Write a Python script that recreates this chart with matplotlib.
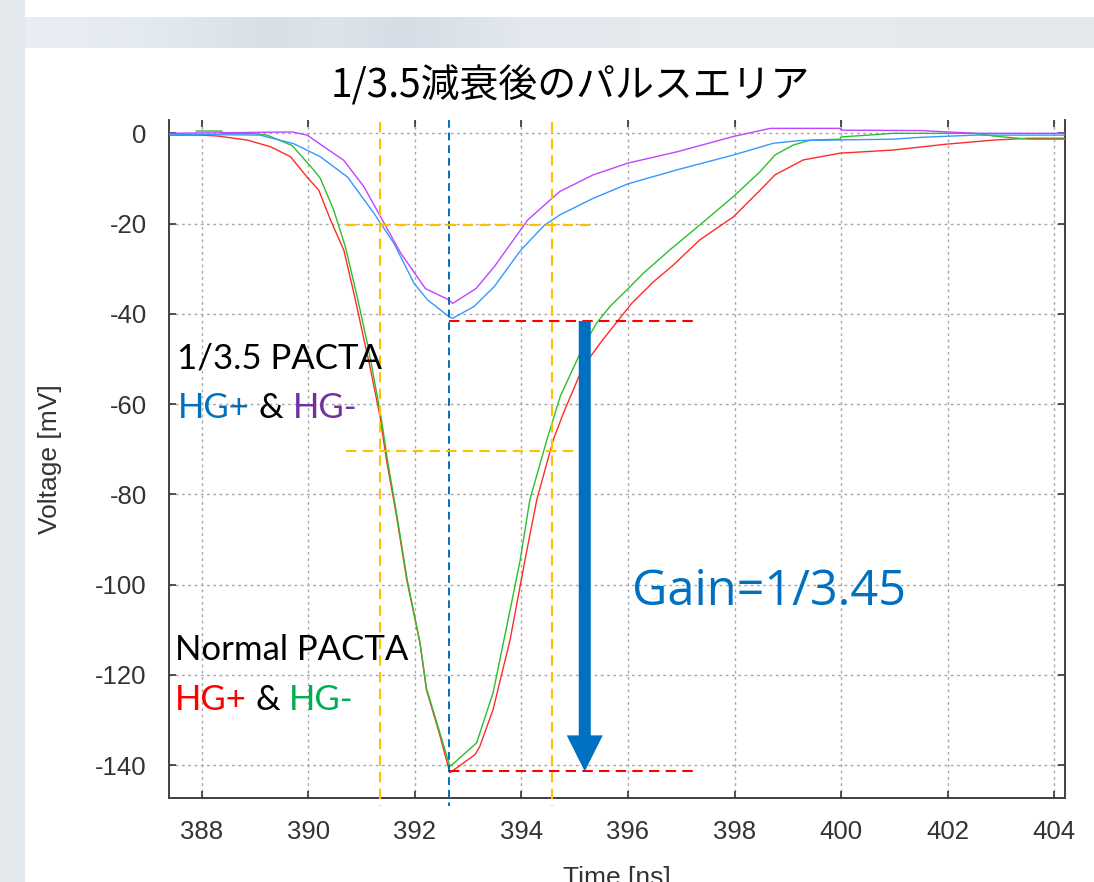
import numpy as np
import matplotlib.pyplot as plt
from matplotlib.patches import Rectangle

W, H = 1094, 882

# Normal PACTA, HG+ (red) and HG- (green)
t_red = [387.39, 388.0, 388.3, 388.86, 389.3, 389.67, 389.98, 390.2, 390.42, 390.67,
         390.86, 391.05, 391.16, 391.35, 391.47, 391.66, 391.85, 392.1, 392.22, 392.45,
         392.66, 392.79, 393.13, 393.22, 393.47, 393.79, 394.07, 394.29, 394.6, 394.79,
         395.16, 395.48, 395.82, 396.07, 396.48, 396.85, 397.35, 397.98, 398.48, 398.76,
         399.29, 399.98, 400.98, 401.98, 402.86, 403.51, 404.2]
v_red = [-0.4, -0.4, -0.6, -1.5, -3.0, -5.2, -9.7, -12.6, -19.2, -25.9,
         -35.5, -45.8, -51.7, -62.8, -72.4, -84.9, -98.9, -113.0, -123.3, -132.5,
         -141.7, -140.6, -137.7, -135.9, -127.7, -112.2, -94.5, -81.2, -67.9, -62.0,
         -51.7, -46.5, -41.4, -37.7, -32.9, -29.2, -23.6, -18.5, -12.6, -9.2,
         -5.9, -4.4, -3.7, -2.4, -1.5, -1.1, -1.1]

t_grn = [387.9, 388.38, 388.4, 389.0, 389.23, 389.7, 390.11, 390.23, 390.48, 390.7,
         390.92, 391.11, 391.2, 391.37, 391.49, 391.67, 391.86, 392.1, 392.22, 392.45,
         392.66, 392.76, 393.16, 393.47, 393.79, 393.98, 394.16, 394.48, 394.73, 395.16,
         395.41, 395.66, 395.98, 396.29, 396.79, 397.35, 397.98, 398.48, 398.76, 399.1,
         399.42, 399.98, 400.0, 400.51, 400.98, 402.5, 402.86, 403.51, 404.2]
v_grn = [0.5, 0.5, 0.0, -0.1, -0.4, -2.7, -8.2, -10.0, -17.0, -25.2,
         -36.2, -46.5, -52.0, -63.0, -72.5, -85.0, -99.0, -113.0, -123.0, -132.0,
         -140.3, -139.3, -135.1, -124.0, -105.6, -94.5, -81.2, -67.9, -58.3, -47.3,
         -42.1, -38.4, -34.7, -31.0, -25.8, -20.3, -14.0, -8.5, -4.8, -2.6,
         -1.5, -1.3, -0.8, -0.4, 0.0, 0.0, -0.6, -1.3, -1.3]

# 1/3.5 PACTA, HG+ (blue) and HG- (purple)
t_blu = [387.39, 389.1, 389.73, 390.23, 390.74, 391.24, 391.61, 391.99, 392.24, 392.64,
         392.71, 393.11, 393.49, 393.99, 394.43, 394.72, 395.35, 396.0, 396.92, 397.98,
         398.73, 399.23, 400.98, 401.48, 402.51, 404.2]
v_blu = [-0.2, -0.4, -2.3, -5.2, -9.7, -17.8, -24.4, -33.3, -36.9, -40.6,
         -41.0, -38.4, -34.0, -25.9, -20.4, -18.1, -14.4, -11.2, -8.1, -4.8,
         -2.2, -1.6, -1.3, -0.9, -0.4, -0.4]

t_pur = [387.39, 389.7, 389.98, 390.67, 391.05, 391.36, 391.74, 392.2, 392.64, 392.71,
         393.15, 393.49, 394.12, 394.72, 395.35, 396.0, 396.92, 397.98, 398.67, 399.98,
         400.0, 401.51, 402.51, 404.2]
v_pur = [0.0, 0.3, -0.4, -6.0, -11.9, -18.5, -26.6, -34.4, -36.9, -37.7,
         -34.4, -29.6, -19.2, -12.9, -9.2, -6.6, -4.1, -0.7, 1.1, 1.1,
         0.7, 0.6, 0.0, 0.0]

# guide lines drawn over the plot
peak_time = 392.65
width_edges = [391.35, 394.57]
half_levels = [-20.3, -70.3]
half_span = [390.72, 395.29]
peak_levels = [-41.6, -141.4]
peak_span = [392.65, 397.23]
arrow_x = 395.19

xticks = [388, 390, 392, 394, 396, 398, 400, 402, 404]
yticks = [0, -20, -40, -60, -80, -100, -120, -140]

plt.rcParams['font.family'] = ['Liberation Sans', 'DejaVu Sans']
plt.rcParams['axes.unicode_minus'] = False

fig = plt.figure(figsize=(W / 100, H / 100), dpi=100)

# slide background
bg = fig.add_axes([0, 0, 1, 1], zorder=-10)
bg.axis('off')
stops_x = [25, 150, 270, 330, 400, 520, 700, 1094]
stops_c = np.array([[233, 238, 244], [228, 234, 241], [216, 223, 231], [222, 228, 235],
                    [214, 221, 230], [226, 232, 238], [230, 235, 239], [227, 233, 237]]) / 255
xs = np.arange(25, W)
grad = np.stack([np.interp(xs, stops_x, stops_c[:, k]) for k in range(3)], axis=-1)[None, :, :]
bg.imshow(grad, extent=(25, W, 48, 17), aspect='auto', interpolation='bilinear')
bg.add_patch(Rectangle((0, 0), 25, H, color='#e3e9ed', lw=0))
bg.set_xlim(0, W)
bg.set_ylim(H, 0)

ax = fig.add_axes([169 / W, 1 - 798 / H, (1065 - 169) / W, (798 - 120) / H])
ax.set_facecolor('none')
ax.set_xlim(387.39, 404.2)
ax.set_ylim(-147.3, 2.95)

ax.plot(t_red, v_red, color='#ff2a2a', lw=1.0, zorder=3)
ax.plot(t_grn, v_grn, color='#2cbf2c', lw=1.0, zorder=3)
ax.plot(t_blu, v_blu, color='#3399ff', lw=1.0, zorder=3)
ax.plot(t_pur, v_pur, color='#c044ff', lw=1.0, zorder=3)

ax.set_xticks(xticks)
ax.set_yticks(yticks)
ax.grid(True, color='#a8a8a8', lw=1.0, linestyle=(0, (2, 2.5)))
ax.set_axisbelow(True)
ax.tick_params(direction='in', length=5, width=1.2, color='#333333',
               labelsize=18.5, labelcolor='#333333', pad=16,
               top=True, right=True)
for side in ['left', 'bottom', 'right']:
    ax.spines[side].set_color('#404040')
    ax.spines[side].set_linewidth(1.4)
ax.spines['top'].set_visible(False)

ax.set_xlabel('Time [ns]', fontsize=19, color='#333333')
ax.set_ylabel('Voltage [mV]', fontsize=19, color='#333333')
ax.xaxis.set_label_coords(0.5, -0.101)
ax.yaxis.set_label_coords(-0.119, 0.5)

# guide lines
yb = -149.0
for x in width_edges:
    ax.plot([x, x], [2.6, yb], color='#ffc000', lw=1.5, dashes=(5, 3), clip_on=False, zorder=4)
ax.plot([peak_time, peak_time], [2.95, yb], color='#0070c0', lw=1.4, dashes=(4, 2.5),
        clip_on=False, zorder=4)
for y in half_levels:
    ax.plot(half_span, [y, y], color='#ffc000', lw=1.5, dashes=(5, 3), zorder=4)
for y in peak_levels:
    ax.plot(peak_span, [y, y], color='#ff0000', lw=1.5, dashes=(5, 3), zorder=4)

ax.annotate('', xy=(arrow_x, peak_levels[1]), xytext=(arrow_x, peak_levels[0]),
            arrowprops=dict(arrowstyle='simple,head_length=1.8,head_width=1.8,tail_width=0.6',
                            mutation_scale=14.4, color='#0070c0', lw=0,
                            shrinkA=0, shrinkB=0),
            annotation_clip=False, zorder=5)

# slide texts
fig.text(570 / W, 1 - 86 / H, '1/3.5減衰後のパルスエリア', ha='center', va='center',
         fontsize=28, family=['Noto Sans CJK JP', 'DejaVu Sans'], color='black')

renderer = fig.canvas.get_renderer()


def text_width(s, size, family):
    t = fig.text(0, 0, s, fontsize=size, family=family)
    w = t.get_window_extent(renderer).width
    t.remove()
    return w


def colored_line(x0, y0, parts, size=25, family='Lato'):
    full = ''
    for s, c in parts:
        full += s
        x = x0 + text_width(full, size, family) - text_width(s.strip(), size, family)
        fig.text(x / W, 1 - y0 / H, s.strip(), color=c, fontsize=size, family=family,
                 va='baseline', zorder=6)


colored_line(177, 368, [('1/3.5 PACTA', 'black')])
colored_line(178, 418, [('HG+', '#0070c0'), (' &', 'black'), (' HG-', '#7030a0')])
colored_line(175, 660, [('Normal PACTA', 'black')])
colored_line(175, 710, [('HG+', '#ff0000'), (' &', 'black'), (' HG-', '#00b050')])
colored_line(632, 605, [('Gain=1/3.45', '#0070c0')], size=35, family='Open Sans')

fig.savefig('out.png', dpi=100)
